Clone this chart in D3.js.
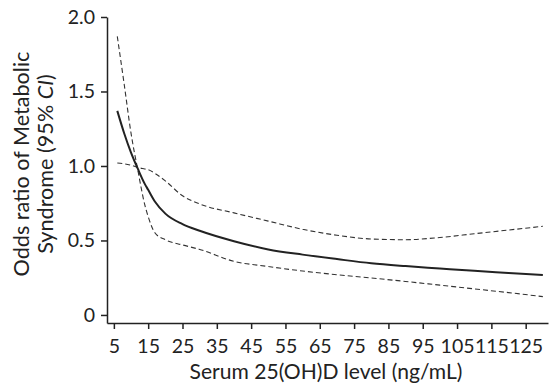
<!DOCTYPE html>
<html>
<head>
<meta charset="utf-8">
<script src="https://cdn.jsdelivr.net/npm/d3@7"></script>
<style>
  body { margin: 0; background: #fff; }
  text { font-family: Lato, "Open Sans", sans-serif; fill: #222; }
</style>
</head>
<body>
<div id="chart"></div>
<script>
// serum 25(OH)D level (ng/mL) sample points
const level = [6, 8, 10, 12, 14, 15, 17, 20, 25, 30, 40, 50, 60, 70, 80, 90, 100, 110, 120, 130];
// odds ratio and 95% CI
const oddsRatio = [1.37, 1.22, 1.09, 0.98, 0.88, 0.84, 0.76, 0.68, 0.61, 0.565, 0.495, 0.44, 0.405, 0.375, 0.347, 0.328, 0.312, 0.296, 0.282, 0.268];
const upperCI = [1.02, 1.015, 1.005, 0.99, 0.98, 0.975, 0.95, 0.90, 0.80, 0.745, 0.685, 0.63, 0.575, 0.535, 0.51, 0.505, 0.52, 0.545, 0.57, 0.595];
const lowerCI = [1.87, 1.55, 1.22, 0.97, 0.74, 0.66, 0.55, 0.505, 0.47, 0.44, 0.36, 0.325, 0.295, 0.27, 0.248, 0.225, 0.2, 0.175, 0.15, 0.123];
const xTicks = [5, 15, 25, 35, 45, 55, 65, 75, 85, 95, 105, 115, 125];
const yTicks = [0, 0.5, 1.0, 1.5, 2.0];
const yTickLabels = ["0", "0.5", "1.0", "1.5", "2.0"];

const width = 550;
const height = 385;
const margin = {top: 17, right: 2, bottom: 62, left: 107};

const svg = d3.select('#chart')
  .append('svg')
  .attr('width', width)
  .attr('height', height);

const x = d3.scaleLinear()
  .domain([3, 131.5])
  .range([margin.left, width - margin.right]);

const y = d3.scaleLinear()
  .domain([-0.054, 2.0])
  .range([height - margin.bottom, margin.top]);

// axes
const xAxis = svg.append('g')
  .attr('transform', `translate(0,${height - margin.bottom})`)
  .call(d3.axisBottom(x).tickValues(xTicks).tickSize(6).tickPadding(10).tickSizeOuter(0));

const yAxis = svg.append('g')
  .attr('transform', `translate(${margin.left},0)`)
  .call(d3.axisLeft(y).tickValues(yTicks).tickFormat((d, i) => yTickLabels[i])
    .tickSize(6).tickPadding(6).tickSizeOuter(0));

[xAxis, yAxis].forEach(g => {
  g.select('.domain').attr('stroke', '#222').attr('stroke-width', 1.5);
  g.selectAll('.tick line').attr('stroke', '#222').attr('stroke-width', 1.5);
  g.selectAll('.tick text').attr('font-family', 'Lato, sans-serif').attr('font-size', 19.5).attr('fill', '#222');
});

// lines
const line = d3.line()
  .x((d, i) => x(level[i]))
  .y(d => y(d))
  .curve(d3.curveMonotoneX);

svg.append('path')
  .attr('d', line(upperCI))
  .attr('fill', 'none')
  .attr('stroke', '#333')
  .attr('stroke-width', 1.1)
  .attr('stroke-dasharray', '5,3');

svg.append('path')
  .attr('d', line(lowerCI))
  .attr('fill', 'none')
  .attr('stroke', '#333')
  .attr('stroke-width', 1.1)
  .attr('stroke-dasharray', '5,3');

svg.append('path')
  .attr('d', line(oddsRatio))
  .attr('fill', 'none')
  .attr('stroke', '#222')
  .attr('stroke-width', 2);

// axis titles
const xTitle = svg.append('text')
  .attr('x', 326)
  .attr('y', 379)
  .attr('text-anchor', 'middle')
  .attr('font-size', 21)
  .text('Serum 25(OH)D level (ng/mL)');

const yTitle = svg.append('text')
  .attr('transform', 'translate(0,164) rotate(-90)')
  .attr('text-anchor', 'middle')
  .attr('font-size', 21);

const line1 = yTitle.append('tspan')
  .attr('x', 0)
  .attr('y', 29)
  .text('Odds ratio of Metabolic');

const line2 = yTitle.append('tspan')
  .attr('x', 0)
  .attr('y', 53)
  .text('Syndrome (95% ');
line2.append('tspan').attr('font-style', 'italic').text('CI');
line2.append('tspan').text(')');

// fit title sizes to the widths seen in the reference
const fit = (sel, node, target) => {
  const len = node.getComputedTextLength();
  sel.attr('font-size', 21 * target / len);
};
fit(xTitle, xTitle.node(), 273);
fit(yTitle, line1.node(), 225);
</script>
</body>
</html>
